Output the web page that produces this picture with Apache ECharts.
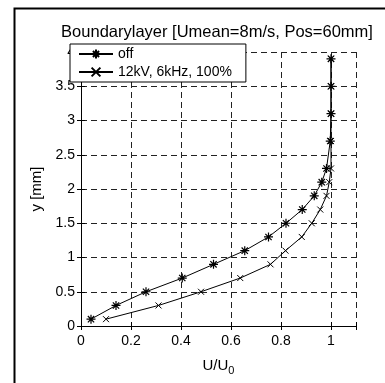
<!DOCTYPE html>
<html>
<head>
<meta charset="utf-8">
<script src="https://cdn.jsdelivr.net/npm/echarts@6/dist/echarts.min.js"></script>
<style>html,body{margin:0;padding:0;background:#fff}#c{width:385px;height:383px}</style>
</head>
<body>
<div id="c"></div>
<script>
var titleText = 'Boundarylayer [Umean=8m/s, Pos=60mm]';
var seriesNames = ['off', '12kV, 6kHz, 100%'];
var yPos = [0.1, 0.3, 0.5, 0.7, 0.9, 1.1, 1.3, 1.5, 1.7, 1.9, 2.1, 2.3, 2.7, 3.1, 3.5, 3.9];
var uOff = [0.04, 0.14, 0.26, 0.405, 0.53, 0.655, 0.75, 0.82, 0.885, 0.933, 0.963, 0.982, 0.997, 1.0, 1.0, 1.0];
var uOn  = [0.10, 0.31, 0.48, 0.637, 0.758, 0.818, 0.883, 0.923, 0.957, 0.982, 0.993, 1.0, 1.0, 1.0, 1.0, 1.0];
var xMin = 0, xMax = 1.1, xStep = 0.2;
var yMin = 0, yMax = 4, yStep = 0.5;

var FONT = 'Liberation Sans, Arial, Helvetica, sans-serif';
var STAR = 'path://M0,5L10,5M5,0L5,10M1.5,1.5L8.5,8.5M8.5,1.5L1.5,8.5';
var XMARK = 'path://M0,0L10,10M10,0L0,10';

function pairs(xs, ys){ return xs.map(function(x,i){ return [x, ys[i]]; }); }
function xFmt(v){ var k = v / xStep; if (Math.abs(k - Math.round(k)) > 1e-6) return ''; return String(+v.toFixed(2)); }

var chart = echarts.init(document.getElementById('c'), null, {renderer:'canvas'});
var gridLine = {show:true, lineStyle:{color:'#222', type:[6,4], width:1}};
var option = {
  animation:false,
  backgroundColor:'#fff',
  textStyle:{fontFamily:FONT},
  grid:{left:81, right:29, top:52, bottom:57, containLabel:false},
  graphic:[
    {type:'rect', shape:{x:14.5, y:8.5, width:600, height:600}, style:{fill:'none', stroke:'#000', lineWidth:2}, z:-1},
    {type:'text', x:217, y:32, style:{text:titleText, font:'16.5px ' + FONT, fill:'#000', textAlign:'center', textVerticalAlign:'middle'}}
  ],
  legend:{
    show:true, orient:'vertical', left:70, top:44,
    backgroundColor:'#fff', borderColor:'#000', borderWidth:1, borderRadius:0,
    padding:[3,14,3,8], itemGap:4, itemWidth:34, itemHeight:11,
    textStyle:{fontFamily:FONT, fontSize:14, color:'#000'},
    data:seriesNames, z:10
  },
  xAxis:[
    {type:'value', min:xMin, max:xMax, interval:xStep, position:'bottom',
     axisLine:{lineStyle:{color:'#000', width:1}},
     axisTick:{inside:true, length:4, lineStyle:{color:'#000'}},
     axisLabel:{color:'#000', fontSize:14, fontFamily:FONT, margin:8, formatter:xFmt},
     splitLine:gridLine,
     name:'U/U{sub|0}', nameLocation:'middle', nameGap:29,
     nameTextStyle:{color:'#000', fontSize:15, fontFamily:FONT,
       rich:{sub:{fontSize:11, verticalAlign:'bottom', padding:[10,0,0,0], fontFamily:FONT, color:'#000'}}}},
    {type:'value', min:xMin, max:xMax, interval:xStep, position:'top',
     axisLine:{show:true, lineStyle:{color:'#000', width:1}},
     axisTick:{inside:true, length:4, lineStyle:{color:'#000'}},
     axisLabel:{show:false}, splitLine:{show:false}}
  ],
  yAxis:[
    {type:'value', min:yMin, max:yMax, interval:yStep, position:'left',
     axisLine:{show:true, lineStyle:{color:'#000', width:1}},
     axisTick:{show:true, inside:true, length:4, lineStyle:{color:'#000'}},
     axisLabel:{color:'#000', fontSize:14, fontFamily:FONT, margin:6},
     splitLine:gridLine,
     name:'y [mm]', nameLocation:'middle', nameGap:28, nameRotate:90,
     nameTextStyle:{color:'#000', fontSize:15, fontFamily:FONT}},
    {type:'value', min:yMin, max:yMax, interval:yStep, position:'right',
     axisLine:{show:true, lineStyle:{color:'#000', width:1}},
     axisTick:{show:true, inside:true, length:4, lineStyle:{color:'#000'}},
     axisLabel:{show:false}, splitLine:{show:false}}
  ],
  series:[
    {name:seriesNames[0], type:'line', xAxisIndex:0, yAxisIndex:0, data:pairs(uOff, yPos),
     symbol:STAR, symbolSize:9, showSymbol:true, color:'#000',
     lineStyle:{color:'#000', width:1}, itemStyle:{color:'none', borderColor:'#000', borderWidth:1.2}},
    {name:seriesNames[1], type:'line', xAxisIndex:0, yAxisIndex:0, data:pairs(uOn, yPos),
     symbol:XMARK, symbolSize:6, showSymbol:true, color:'#000',
     lineStyle:{color:'#000', width:1}, itemStyle:{color:'none', borderColor:'#000', borderWidth:1}}
  ]
};
chart.setOption(option);
</script>
</body>
</html>
